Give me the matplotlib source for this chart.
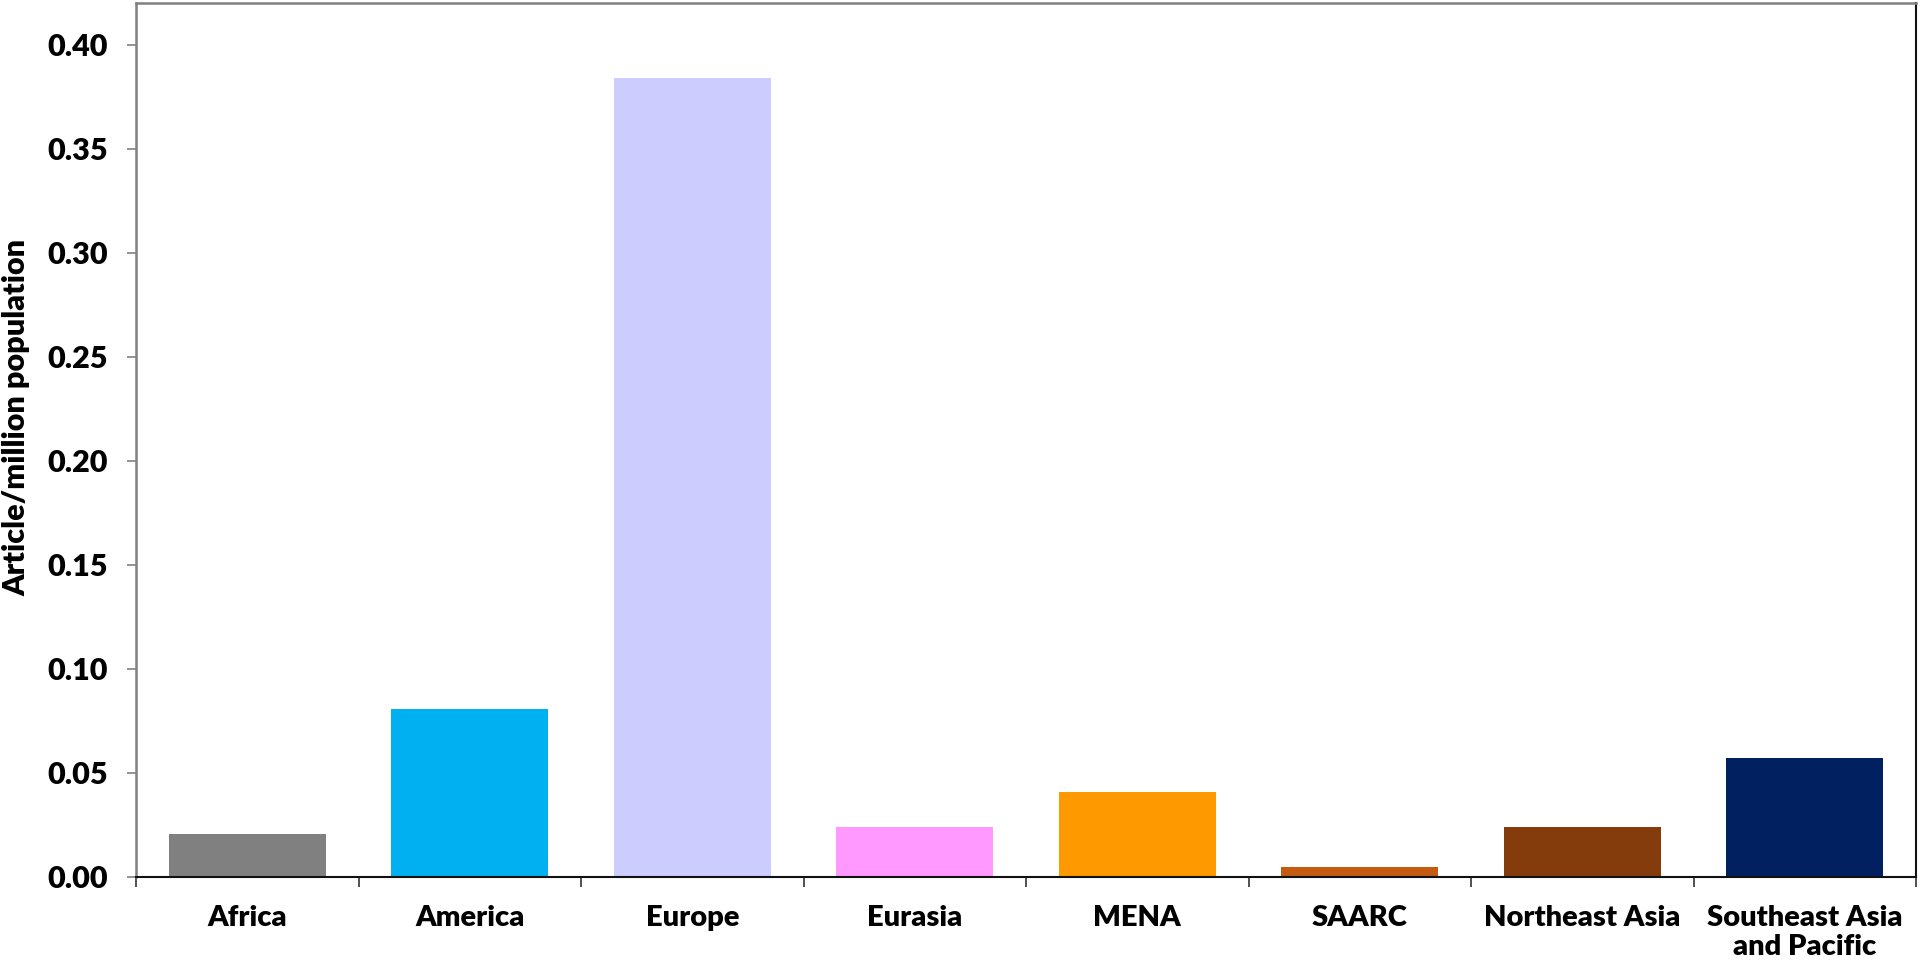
import matplotlib
matplotlib.use("Agg")
import matplotlib.pyplot as plt
import numpy as np

categories = ["Africa", "America", "Europe", "Eurasia", "MENA", "SAARC",
              "Northeast Asia", "Southeast Asia\nand Pacific"]
values = [0.0207, 0.0806, 0.384, 0.0239, 0.041, 0.0048, 0.0239, 0.0572]
colors = ["#808080", "#00B0F0", "#CCCCFF", "#FF99FF", "#FF9900", "#C55A11",
          "#843C0C", "#002060"]
yticks = [0.00, 0.05, 0.10, 0.15, 0.20, 0.25, 0.30, 0.35, 0.40]
ylabel = "Article/million population"

plt.rcParams['font.family'] = ['Lato', 'DejaVu Sans']

fig = plt.figure(figsize=(19.2, 9.63), dpi=100)
ax = fig.add_axes([136/1920, 1 - 877/963, (1916-136)/1920, (877-3)/963])

x = np.arange(len(categories))
ax.bar(x, values, width=0.707, color=colors, zorder=2)

ax.set_xlim(-0.5, len(categories) - 0.5)
ax.set_ylim(0, 0.42)
ax.set_yticks(yticks)
ax.set_yticklabels([f"{v:.2f}" for v in yticks], fontsize=22, fontweight='heavy')
ax.set_xticks(x)
ax.set_xticklabels(categories, fontsize=21, fontweight='heavy', linespacing=1.15)
ax.set_xticks(np.arange(-0.5, len(categories)), minor=True)
ax.tick_params(axis='x', which='major', length=0, pad=20)
ax.tick_params(axis='x', which='minor', length=7.5, width=1.2, color='#333333', direction='out')
ax.tick_params(axis='y', length=6.5, width=1.2, color='#808080', pad=14)

ax.set_ylabel(ylabel, fontsize=22, fontweight='heavy')
ax.yaxis.label.set_verticalalignment('center')
ax.yaxis.set_label_coords(-(136 - 16) / (1916 - 136), (877 - 417) / (877 - 3))

for side in ['left', 'top']:
    ax.spines[side].set_color('#808080')
    ax.spines[side].set_linewidth(1.8)
for side in ['bottom', 'right']:
    ax.spines[side].set_color('#111111')
    ax.spines[side].set_linewidth(1.5)

fig.savefig("out.png", dpi=100)
